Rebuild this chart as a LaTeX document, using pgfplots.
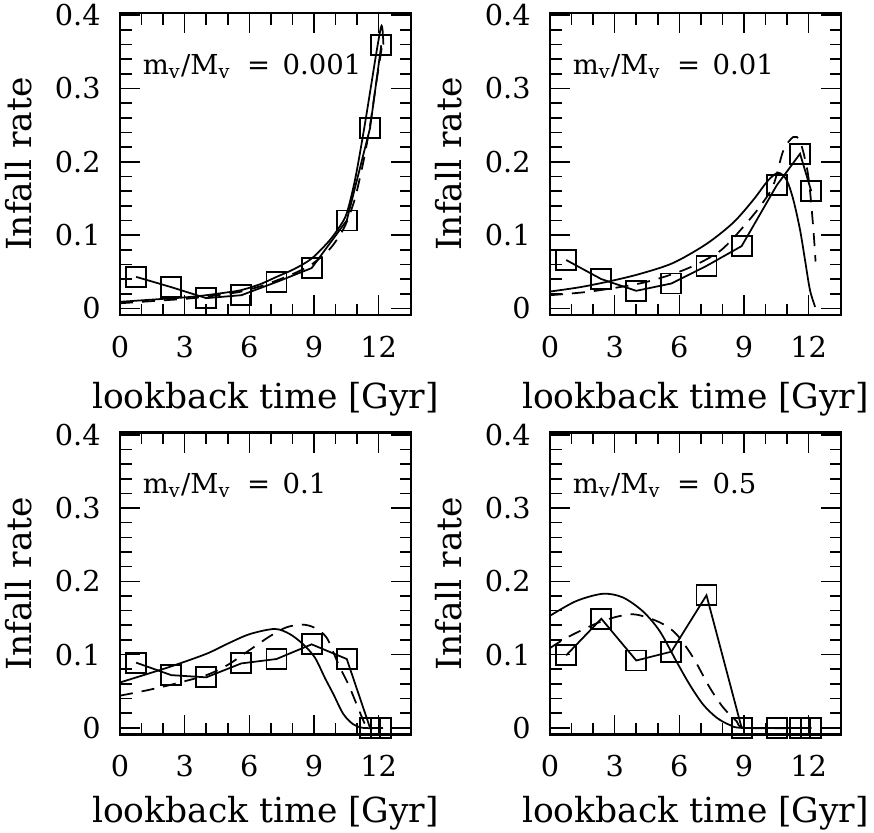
\documentclass[border=0pt]{standalone}
\usepackage{fontspec}
\setmainfont{DejaVu Serif}
\usepackage{pgfplots}
\pgfplotsset{compat=1.18}

\newcommand{\tickfont}{\fontsize{11.5}{13}\selectfont}
\newcommand{\labfont}{\fontsize{13.8}{16}\selectfont}
\newcommand{\panfont}{\fontsize{11}{13}\selectfont}
\newcommand{\ratio}[1]{m\textsubscript{v}/M\textsubscript{v}\hspace{0.6em}=\hspace{0.45em}#1}

\tikzset{lab/.style={anchor=base west, inner sep=0pt, font=\panfont}}

\pgfplotsset{
  panel/.style={
    anchor=south west, scale only axis,
    width=116.4pt, height=120.8pt,
    xmin=0, xmax=13.5, ymin=-0.009, ymax=0.403,
    xtick={0,3,6,9,12}, minor x tick num=2,
    ytick={0,0.1,0.2,0.3,0.4}, minor y tick num=4,
    major tick length=8pt, minor tick length=4.6pt,
    axis line style={line width=0.85pt},
    every tick/.style={black, line width=0.65pt},
    tick label style={font=\tickfont},
    /pgf/number format/assume math mode=true,
    xticklabel style={yshift=-4.9pt},
    yticklabel style={xshift=-4.2pt},
    xlabel={lookback time [Gyr]}, ylabel={Infall rate},
    xlabel style={at={(axis description cs:0.5,-0.309)}, anchor=base, font=\labfont},
    ylabel style={at={(axis description cs:-0.3045,0.5)}, anchor=base, font=\labfont},
    clip=false,
  },
  lower/.style={xlabel style={at={(axis description cs:0.5,-0.29)}}},
  sq/.style={black, line width=0.7pt, mark=square, mark size=4pt, mark options={solid, line width=0.75pt}},
  model/.style={black, line width=0.7pt, smooth, no marks},
  alt/.style={black, line width=0.7pt, smooth, no marks, dash pattern=on 5.2pt off 3.6pt},
}

\begin{document}
\begin{tikzpicture}
\useasboundingbox (0,0) rectangle (349.6pt,332.8pt);

% ---- m/M = 0.001
\begin{axis}[panel, at={(48pt,206.8pt)}]
\addplot[sq] coordinates {(0.75,0.043) (2.38,0.029) (4.0,0.014) (5.63,0.018) (7.26,0.036) (8.89,0.055) (10.52,0.120) (11.6,0.246) (12.12,0.359)};
\addplot[model] coordinates {(0,0.009) (1,0.011) (2,0.013) (3,0.015) (4,0.018) (5,0.022) (5.63,0.025) (6.5,0.033) (7.26,0.043) (8.1,0.054) (8.89,0.068) (9.7,0.092) (10.2,0.112) (10.52,0.13) (10.9,0.175) (11.29,0.239) (11.6,0.295) (11.9,0.35) (12.11,0.384) (12.18,0.38) (12.22,0.36)};
\addplot[alt] coordinates {(0,0.007) (1,0.009) (2,0.011) (3,0.013) (4,0.016) (5,0.02) (5.63,0.023) (6.5,0.03) (7.26,0.038) (8.1,0.048) (8.89,0.06) (9.7,0.08) (10.2,0.1) (10.52,0.118) (10.9,0.15) (11.29,0.2) (11.6,0.25) (11.9,0.31) (12.14,0.355)};
\node[lab] at (axis description cs:0.077,0.797) {\ratio{0.001}};
\end{axis}

% ---- m/M = 0.01
\begin{axis}[panel, at={(220pt,206.8pt)}]
\addplot[sq] coordinates {(0.75,0.066) (2.38,0.040) (4.0,0.024) (5.63,0.034) (7.26,0.058) (8.89,0.085) (10.52,0.168) (11.6,0.211) (12.12,0.160)};
\addplot[model] coordinates {(0,0.023) (1.4,0.029) (2.76,0.037) (4.16,0.047) (5.71,0.062) (7.26,0.088) (8.5,0.117) (9.43,0.148) (10.13,0.175) (10.6,0.185) (10.98,0.175) (11.29,0.148) (11.6,0.107) (11.83,0.066) (12.06,0.025) (12.3,0.002)};
\addplot[alt] coordinates {(0,0.018) (1.86,0.023) (4.16,0.034) (5.71,0.047) (6.87,0.061) (7.96,0.080) (8.96,0.111) (9.74,0.139) (10.36,0.168) (10.82,0.215) (11.29,0.234) (11.6,0.228) (11.91,0.193) (12.06,0.161) (12.22,0.107) (12.32,0.064)};
\node[lab] at (axis description cs:0.077,0.797) {\ratio{0.01}};
\end{axis}

% ---- m/M = 0.1
\begin{axis}[panel, lower, at={(48pt,39pt)}]
\addplot[sq] coordinates {(0.75,0.089) (2.38,0.072) (4.0,0.069) (5.63,0.088) (7.26,0.094) (8.89,0.114) (10.52,0.094) (11.6,0) (12.12,0)};
\addplot[model] coordinates {(0,0.062) (1.2,0.073) (2.38,0.084) (4.0,0.101) (5.0,0.115) (6.02,0.128) (7.18,0.135) (7.88,0.128) (8.5,0.114) (9.04,0.096) (9.51,0.068) (9.9,0.046) (10.36,0.019) (10.82,0.005) (11.29,0) (12.2,0)};
\addplot[alt] coordinates {(0,0.044) (1.2,0.051) (2.38,0.059) (4.0,0.072) (5.0,0.086) (6.0,0.106) (6.95,0.125) (7.7,0.137) (8.42,0.141) (9.0,0.137) (9.59,0.123) (10.13,0.087) (10.6,0.059) (10.98,0.032) (11.37,0.005) (11.6,0)};
\node[lab] at (axis description cs:0.077,0.797) {\ratio{0.1}};
\end{axis}

% ---- m/M = 0.5
\begin{axis}[panel, lower, at={(220pt,39pt)}]
\addplot[sq] coordinates {(0.75,0.099) (2.38,0.149) (4.0,0.092) (5.63,0.104) (7.26,0.181) (8.89,0) (10.52,0) (11.6,0) (12.12,0)};
\addplot[model] coordinates {(0,0.153) (1.21,0.173) (2.45,0.183) (3.38,0.178) (4.31,0.159) (5.09,0.132) (5.86,0.091) (6.48,0.059) (7.1,0.032) (7.73,0.014) (8.34,0.004) (8.96,0) (12.12,0)};
\addplot[alt] coordinates {(0,0.109) (0.9,0.125) (2.45,0.146) (3.85,0.155) (5.09,0.144) (5.86,0.128) (6.64,0.096) (7.41,0.055) (8.03,0.028) (8.66,0.009) (9.1,0) (12.12,0)};
\node[lab] at (axis description cs:0.077,0.797) {\ratio{0.5}};
\end{axis}
\end{tikzpicture}
\end{document}
